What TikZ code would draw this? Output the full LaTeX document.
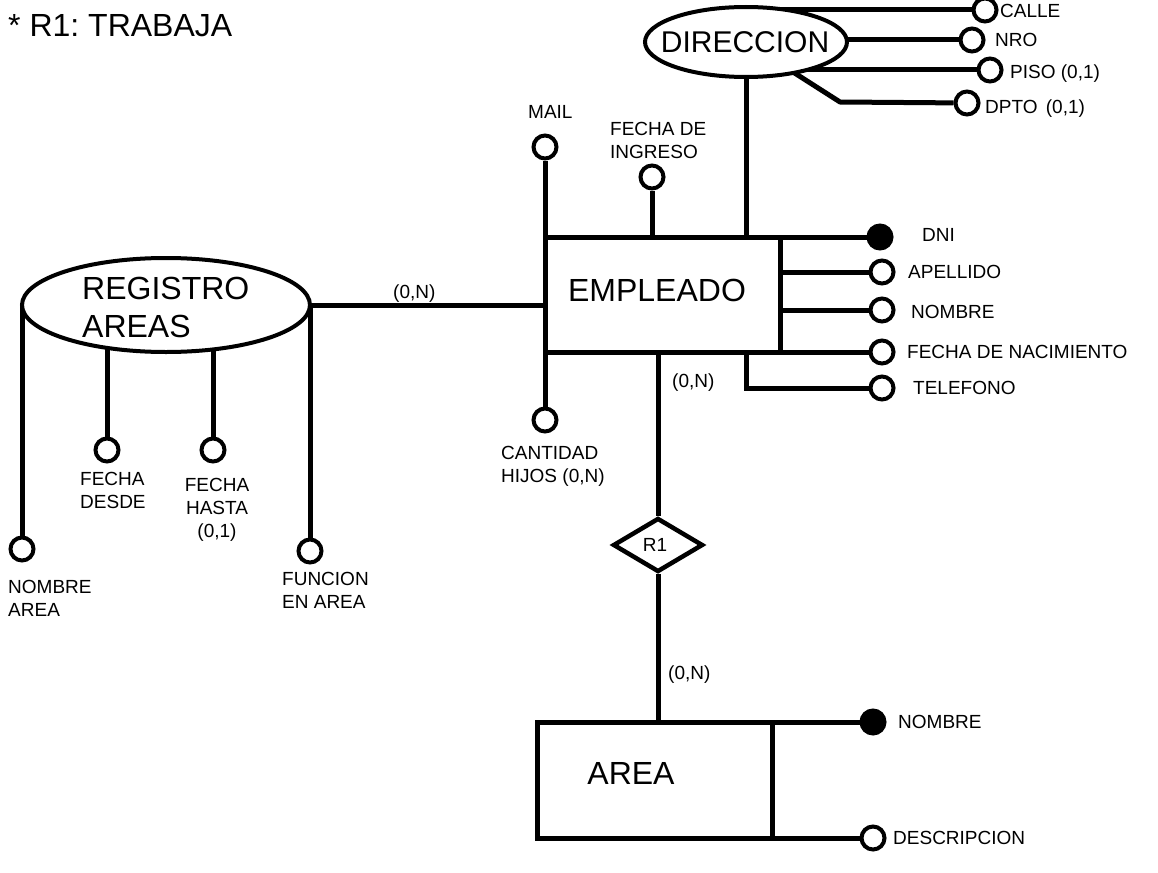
\documentclass[tikz,border=0pt]{standalone}
\usepackage{fontspec}
\setmainfont{Liberation Sans}
\frenchspacing
\usetikzlibrary{shapes.geometric,backgrounds}
\begin{document}
\begin{tikzpicture}[x=1pt,y=-1pt,
  conn/.style={line width=5pt},
  attr/.style={circle,draw,line width=4pt,minimum size=23pt,inner sep=0pt,fill=white},
  keyattr/.style={attr,fill=black},
  entbox/.style={rectangle,draw,line width=5pt,fill=white,inner sep=0pt,outer sep=0pt},
  ellent/.style={ellipse,draw,line width=4pt,fill=white,inner sep=0pt,outer sep=0pt},
  rel/.style={diamond,draw,line width=4.5pt,fill=white,inner sep=0pt,aspect=1.67,minimum width=90pt,minimum height=54pt},
  lbl/.style={inner sep=0pt,anchor=west,font=\fontsize{19}{23}\selectfont,text height=13.6pt,text depth=0pt},
  mlbl/.style={inner sep=0pt,anchor=north west,align=left,font=\fontsize{19}{23}\selectfont},
  big/.style={inner sep=0pt,font=\fontsize{32}{38}\selectfont}]
\useasboundingbox (0,0) rectangle (1158,872);

% title
\node[big,anchor=west,text height=22.9pt,text depth=0pt] (title) at (8,25) {* R1: TRABAJA};

% entities
\node[entbox,minimum width=235pt,minimum height=115pt] (emp) at (662.5,294.5) {};
\node[big] (empt) at (657,290) {EMPLEADO};
\node[entbox,minimum width=235pt,minimum height=116pt] (area) at (654.5,780) {};
\node[big] (areat) at (631,773) {AREA};
\node[ellent,minimum width=202pt,minimum height=70pt] (dir) at (746,42) {};
\node[inner sep=0pt,font=\fontsize{30}{36}\selectfont] (dirt) at (745,42) {DIRECCION};
\node[ellent,minimum width=288pt,minimum height=94pt] (reg) at (166,305) {};
\node[big,anchor=north west,align=left,text depth=0pt] (regt) at (82,276.5) {REGISTRO\\AREAS};
\node[rel] (r1) at (658,545) {};
\node[inner sep=0pt,font=\fontsize{19}{23}\selectfont] (r1t) at (655,545) {R1};

% attribute circles
\node[attr] (calle) at (985,10) {};
\node[attr] (nro) at (972,40) {};
\node[attr] (piso) at (990,70) {};
\node[attr] (dpto) at (967,103) {};
\node[attr] (mail) at (545,147) {};
\node[attr] (fing) at (652,177) {};
\node[keyattr] (dni) at (880,237) {};
\node[attr] (ape) at (882,272) {};
\node[attr] (nom) at (882,310) {};
\node[attr] (fnac) at (882,352) {};
\node[attr] (tel) at (882,388) {};
\node[attr] (cant) at (545,420) {};
\node[attr] (nomar) at (22,549) {};
\node[attr] (fdes) at (107,450) {};
\node[attr] (fhas) at (213,450) {};
\node[attr] (func) at (310,551) {};
\node[keyattr] (anom) at (873,722) {};
\node[attr] (adesc) at (873,838) {};

\coordinate (dbend) at (840,102);

% connectors (behind the shapes)
\begin{pgfonlayer}{background}
\fill[white] (0,0) rectangle (1158,872);
\draw[conn] (calle) -- (calle -| dir.center);
\draw[conn] (nro) -- (nro -| dir.center);
\draw[conn] (piso) -- (piso -| dir.center);
\draw[conn] (dpto) -- (dbend) -- (dir.center);
\draw[conn] (dir.south) -- (dir.south |- emp.north);
\draw[conn] (mail) -- (emp.north west);
\draw[conn] (fing) -- (fing |- emp.north);
\draw[conn] (dni) -- (emp.north east);
\draw[conn] (ape) -- (ape -| emp.east);
\draw[conn] (nom) -- (nom -| emp.east);
\draw[conn] (fnac) -- (emp.south east);
\draw[conn] (tel) -| (dir.south |- emp.south);
\draw[conn] (cant) -- (emp.south west);
\draw[conn] (r1) -- (r1 |- emp.south);
\draw[conn] (r1) -- (r1 |- area.north);
\draw[conn] (anom) -- (area.north east);
\draw[conn] (adesc) -- (area.south east);
\draw[conn] (reg.east) -- (reg.east -| emp.west);
\draw[conn] (nomar) -- (nomar |- reg.center);
\draw[conn] (fdes) -- (fdes |- reg.center);
\draw[conn] (fhas) -- (fhas |- reg.center);
\draw[conn] (func) -- (func |- reg.center);
\end{pgfonlayer}

% labels
\node[lbl] (lcalle) at (1000,11) {CALLE};
\node[lbl] (lnro) at (995,40) {NRO};
\node[lbl] (lpiso) at (1010,72) {PISO (0,1)};
\node[lbl] (ldpto) at (985,107) {DPTO\hspace{3pt} (0,1)};
\node[lbl] (lmail) at (528,112) {MAIL};
\node[mlbl] (lfing) at (610,122.2) {FECHA DE\\INGRESO};
\node[lbl] (ldni) at (922,235) {DNI};
\node[lbl] (lape) at (908,272) {APELLIDO};
\node[lbl] (lnom) at (911,312) {NOMBRE};
\node[lbl] (lfnac) at (907,352) {FECHA DE NACIMIENTO};
\node[lbl] (ltel) at (913,388) {TELEFONO};
\node[lbl] (lcard1) at (393,292) {(0,N)};
\node[lbl] (lcard2) at (672,381) {(0,N)};
\node[lbl] (lcard3) at (668,673) {(0,N)};
\node[mlbl] (lcant) at (501,446.2) {CANTIDAD\\HIJOS (0,N)};
\node[lbl] (lanom) at (898,722) {NOMBRE};
\node[lbl] (ladesc) at (893,838) {DESCRIPCION};
\node[mlbl] (lfdes) at (80,472.2) {FECHA\\DESDE};
\node[mlbl,anchor=north,align=center] (lfhas) at (217,478.2) {FECHA\\HASTA\\(0,1)};
\node[mlbl] (lnomar) at (8,580.2) {NOMBRE\\AREA};
\node[mlbl] (lfunc) at (282,572.2) {FUNCION\\EN AREA};
\end{tikzpicture}
\end{document}
